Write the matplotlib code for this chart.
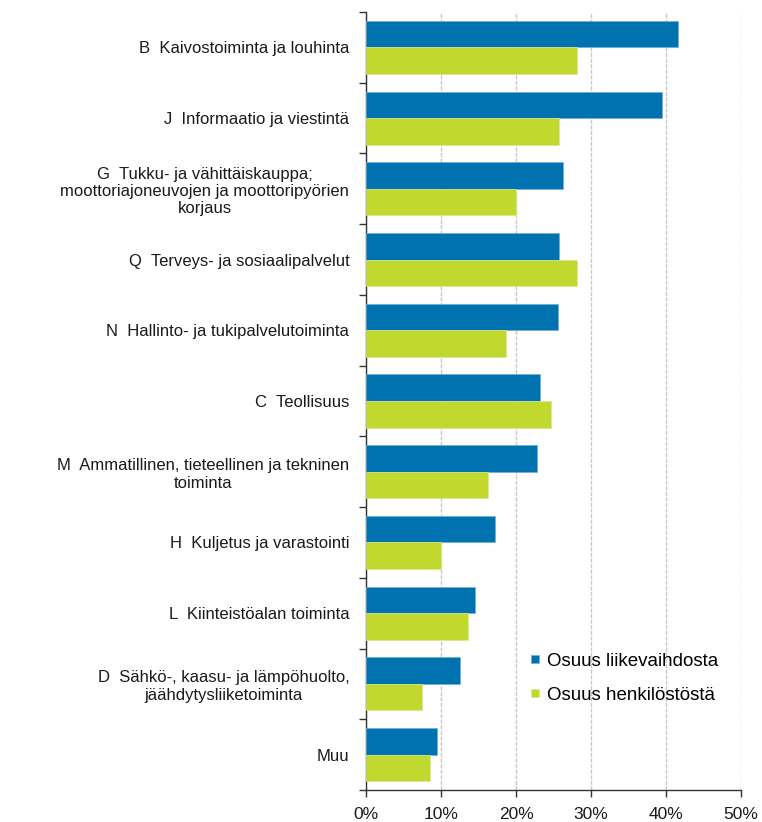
import numpy as np
import matplotlib.pyplot as plt
from matplotlib.ticker import MultipleLocator, FuncFormatter

plt.rcParams['font.family'] = ['Liberation Sans', 'DejaVu Sans']

categories = [
    "B  Kaivostoiminta ja louhinta",
    "J  Informaatio ja viestintä",
    "G  Tukku- ja vähittäiskauppa;\nmoottoriajoneuvojen ja moottoripyörien\nkorjaus",
    "Q  Terveys- ja sosiaalipalvelut",
    "N  Hallinto- ja tukipalvelutoiminta",
    "C  Teollisuus",
    "M  Ammatillinen, tieteellinen ja tekninen\ntoiminta",
    "H  Kuljetus ja varastointi",
    "L  Kiinteistöalan toiminta",
    "D  Sähkö-, kaasu- ja lämpöhuolto,\njäähdytysliiketoiminta",
    "Muu",
]
turnover_share = [41.6, 39.5, 26.2, 25.7, 25.6, 23.2, 22.8, 17.2, 14.5, 12.5, 9.4]
staff_share = [28.1, 25.7, 20.0, 28.1, 18.7, 24.7, 16.2, 10.0, 13.6, 7.5, 8.5]
series_names = ["Osuus liikevaihdosta", "Osuus henkilöstöstä"]

blue = "#0072B0"
green = "#C1D82F"

fig = plt.figure(figsize=(7.62, 8.22), dpi=100)
ax = fig.add_axes([366 / 762, 32 / 822, 375 / 762, 778 / 822])

n = len(categories)
y = np.arange(n)
h = 0.375
ax.barh(y - h / 2, turnover_share, height=h, color=blue, label=series_names[0],
        edgecolor="#6fb0d8", linewidth=0.5, zorder=3)
ax.barh(y + h / 2, staff_share, height=h, color=green, label=series_names[1],
        edgecolor="#dbe88a", linewidth=0.5, zorder=3)

ax.set_ylim(n - 0.5, -0.5)
ax.set_xlim(0, 50)

ax.set_yticks(y)
ax.set_yticklabels(categories, multialignment="center", fontsize=12, color="#1a1a1a")
ax.set_yticks(np.arange(-0.5, n, 1), minor=True)
ax.tick_params(axis="y", which="major", length=0, pad=12)
ax.tick_params(axis="y", which="minor", length=5, width=1, color="#333333")

ax.xaxis.set_major_locator(MultipleLocator(10))
ax.xaxis.set_major_formatter(FuncFormatter(lambda v, p: f"{v:.0f}%"))
ax.tick_params(axis="x", length=5, width=1, color="#333333", labelsize=12.5,
               labelcolor="#1a1a1a", pad=7)

ax.grid(axis="x", color="#c8c8c8", linestyle=(0, (3, 1)), linewidth=1, zorder=0)

for s in ["top", "right"]:
    ax.spines[s].set_visible(False)
for s in ["left", "bottom"]:
    ax.spines[s].set_color("#333333")
    ax.spines[s].set_linewidth(1)

ax.legend(loc="upper left", bbox_to_anchor=(0.44, 0.176), frameon=False,
          fontsize=13.5, handlelength=0.42, handleheight=0.3, handletextpad=0.42,
          labelspacing=0.9, borderpad=0, borderaxespad=0)

fig.savefig("out.png", dpi=100)
